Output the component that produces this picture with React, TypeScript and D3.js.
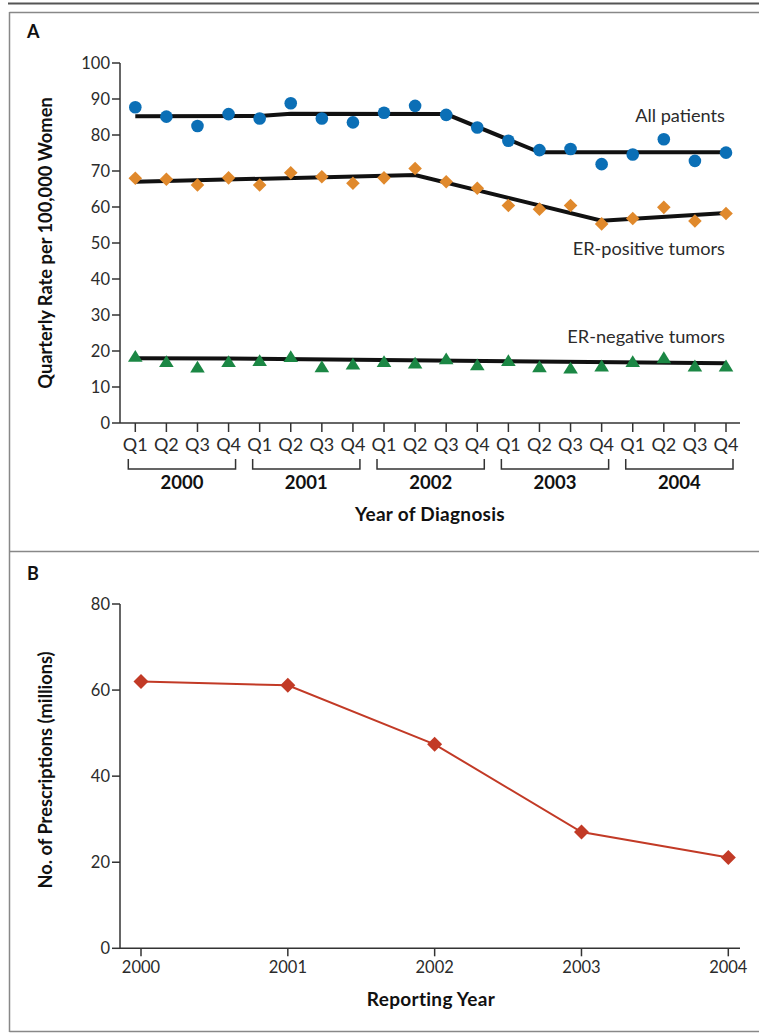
import React from 'react';
import * as d3 from 'd3';

// ---------- Panel A data ----------
const quarterNames = ['Q1', 'Q2', 'Q3', 'Q4'];
const diagnosisYears = ['2000', '2001', '2002', '2003', '2004'];
const allPatients = [87.7, 85.1, 82.5, 85.8, 84.6, 88.8, 84.6, 83.5, 86.2, 88.1, 85.6, 82.1, 78.4, 75.8, 76.1, 71.9, 74.6, 78.8, 72.8, 75.1];
const erPositive = [68.0, 67.7, 66.1, 68.1, 66.1, 69.5, 68.4, 66.6, 68.1, 70.7, 67.0, 65.2, 60.4, 59.4, 60.4, 55.3, 56.8, 59.9, 56.1, 58.2];
const erNegative = [18.5, 17.0, 15.5, 17.0, 17.3, 18.4, 15.6, 16.3, 17.0, 16.6, 17.8, 16.1, 17.3, 15.6, 15.2, 15.8, 17.0, 18.1, 15.8, 15.8];
// fitted trend knots: [quarter index, rate]
const allTrend: [number, number][] = [[0, 85.2], [4, 85.3], [5, 85.9], [10, 85.8], [13, 75.2], [19, 75.2]];
const posTrend: [number, number][] = [[0, 67.0], [9, 68.9], [15, 56.2], [19, 58.3]];
const negTrend: [number, number][] = [[0, 18.0], [3, 17.9], [19, 16.6]];
const yTicksA = [0, 10, 20, 30, 40, 50, 60, 70, 80, 90, 100];

// ---------- Panel B data ----------
const reportingYears = ['2000', '2001', '2002', '2003', '2004'];
const prescriptions = [62.0, 61.1, 47.4, 27.0, 21.1];
const yTicksB = [0, 20, 40, 60, 80];

const FONT = 'Lato, "Open Sans", sans-serif';
const TXT = '#2b2b2b';
const BLUE = '#0b6fb6';
const ORANGE = '#e0892c';
const GREEN = '#1b8744';
const RED = '#c23a26';

export default function App() {
  const W = 759, H = 1034;

  // Panel A scales
  const quarters = diagnosisYears.flatMap((y) => quarterNames.map((q) => `${y} ${q}`));
  const xA = d3.scalePoint<string>().domain(quarters).range([135.3, 726]);
  const xiA = d3.scaleLinear().domain([0, quarters.length - 1]).range([135.3, 726]);
  const yA = d3.scaleLinear().domain([0, 100]).range([423, 63]);
  const axisA = { x0: 120, x1: 740, y: yA(0) };
  const trendLine = d3.line<[number, number]>().x((d) => xiA(d[0])).y((d) => yA(d[1]));

  // Panel B scales
  const xB = d3.scalePoint<string>().domain(reportingYears).range([141, 728.3]);
  const yB = d3.scaleLinear().domain([0, 80]).range([948.3, 604]);
  const lineB = d3.line<number>().x((_, i) => xB(reportingYears[i])!).y((d) => yB(d));

  const diamond = (r: number) => `M0,${-r}L${r},0L0,${r}L${-r},0Z`;
  const triangle = 'M0,-6.5L7.3,5.3L-7.3,5.3Z';

  return (
    <svg width={W} height={H} style={{ position: 'absolute', left: 0, top: 0, background: '#fff' }} fontFamily={FONT}>
      {/* frame */}
      <line x1={8} x2={W} y1={3.5} y2={3.5} stroke="#555" strokeWidth={2} />
      <line x1={9.5} x2={W} y1={12.5} y2={12.5} stroke="#888" strokeWidth={1.5} />
      <line x1={9.5} x2={9.5} y1={12} y2={1032} stroke="#888" strokeWidth={1.5} />
      <line x1={9.5} x2={W} y1={551.5} y2={551.5} stroke="#888" strokeWidth={1.5} />
      <line x1={9.5} x2={W} y1={1031.5} y2={1031.5} stroke="#888" strokeWidth={1.5} />

      {/* ---------------- Panel A ---------------- */}
      <text x={27} y={38} fontSize={18} fontWeight={700} fill="#111">A</text>

      {/* y axis */}
      <line x1={axisA.x0} x2={axisA.x0} y1={yA(100)} y2={yA(0)} stroke="#333" strokeWidth={1.5} />
      {yTicksA.map((t) => (
        <g key={t}>
          <line x1={axisA.x0 - 8} x2={axisA.x0} y1={yA(t)} y2={yA(t)} stroke="#333" strokeWidth={1.5} />
          <text x={110} y={yA(t)} dy="0.35em" textAnchor="end" fontSize={16.5} fill={TXT}>{t}</text>
        </g>
      ))}
      <text transform={`translate(52,${(yA(0) + yA(100)) / 2}) rotate(-90)`} textAnchor="middle" fontSize={18.3} fontWeight={700} fill="#111">
        Quarterly Rate per 100,000 Women
      </text>

      {/* x axis */}
      <line x1={axisA.x0} x2={axisA.x1} y1={axisA.y} y2={axisA.y} stroke="#333" strokeWidth={1.5} />
      {quarters.map((q, i) => (
        <g key={q}>
          <line x1={xA(q)} x2={xA(q)} y1={axisA.y} y2={axisA.y + 9} stroke="#333" strokeWidth={1.5} />
          <text x={xA(q)} y={451} textAnchor="middle" fontSize={18} fill={TXT}>{quarterNames[i % 4]}</text>
        </g>
      ))}
      {diagnosisYears.map((y) => {
        const a = xA(`${y} Q1`)! - 7;
        const b = xA(`${y} Q4`)! + 7;
        return (
          <g key={y}>
            <path d={`M${a},459V469H${b}V459`} fill="none" stroke="#333" strokeWidth={1.5} />
            <text x={(a + b) / 2} y={489} textAnchor="middle" fontSize={18.5} fontWeight={700} fill="#111">{y}</text>
          </g>
        );
      })}
      <text x={430} y={521} textAnchor="middle" fontSize={19} fontWeight={700} fill="#111" letterSpacing={0.3}>Year of Diagnosis</text>

      {/* trend lines */}
      <path d={trendLine(allTrend)!} fill="none" stroke="#111" strokeWidth={4} />
      <path d={trendLine(posTrend)!} fill="none" stroke="#111" strokeWidth={4} />
      <path d={trendLine(negTrend)!} fill="none" stroke="#111" strokeWidth={4} />

      {/* markers */}
      {allPatients.map((v, i) => (
        <circle key={`a${i}`} cx={xA(quarters[i])} cy={yA(v)} r={6.3} fill={BLUE} />
      ))}
      {erPositive.map((v, i) => (
        <path key={`p${i}`} d={diamond(6.8)} transform={`translate(${xA(quarters[i])},${yA(v)})`} fill={ORANGE} />
      ))}
      {erNegative.map((v, i) => (
        <path key={`n${i}`} d={triangle} transform={`translate(${xA(quarters[i])},${yA(v)})`} fill={GREEN} />
      ))}

      <text x={725} y={122} textAnchor="end" fontSize={18.2} fill={TXT}>All patients</text>
      <text x={725} y={255} textAnchor="end" fontSize={18.2} fill={TXT}>ER-positive tumors</text>
      <text x={725} y={343} textAnchor="end" fontSize={18.2} fill={TXT}>ER-negative tumors</text>

      {/* ---------------- Panel B ---------------- */}
      <text x={27} y={580} fontSize={18} fontWeight={700} fill="#111">B</text>

      <line x1={120} x2={120} y1={yB(80)} y2={yB(0)} stroke="#333" strokeWidth={1.5} />
      {yTicksB.map((t) => (
        <g key={t}>
          <line x1={112} x2={120} y1={yB(t)} y2={yB(t)} stroke="#333" strokeWidth={1.5} />
          <text x={110} y={yB(t)} dy="0.35em" textAnchor="end" fontSize={16.5} fill={TXT}>{t}</text>
        </g>
      ))}
      <line x1={120} x2={740} y1={yB(0)} y2={yB(0)} stroke="#333" strokeWidth={1.5} />
      {reportingYears.map((y) => (
        <g key={y}>
          <line x1={xB(y)} x2={xB(y)} y1={yB(0)} y2={yB(0) + 8} stroke="#333" strokeWidth={1.5} />
          <text x={xB(y)} y={973} textAnchor="middle" fontSize={16.5} fill={TXT}>{y}</text>
        </g>
      ))}
      <text x={431} y={1006} textAnchor="middle" fontSize={19} fontWeight={700} fill="#111" letterSpacing={0.3}>Reporting Year</text>
      <text transform={`translate(52,770) rotate(-90)`} textAnchor="middle" fontSize={18.3} fontWeight={700} fill="#111">
        No. of Prescriptions (millions)
      </text>

      <path d={lineB(prescriptions)!} fill="none" stroke={RED} strokeWidth={2} />
      {prescriptions.map((v, i) => (
        <path key={`b${i}`} d={diamond(7.5)} transform={`translate(${xB(reportingYears[i])},${yB(v)})`} fill={RED} />
      ))}
    </svg>
  );
}
